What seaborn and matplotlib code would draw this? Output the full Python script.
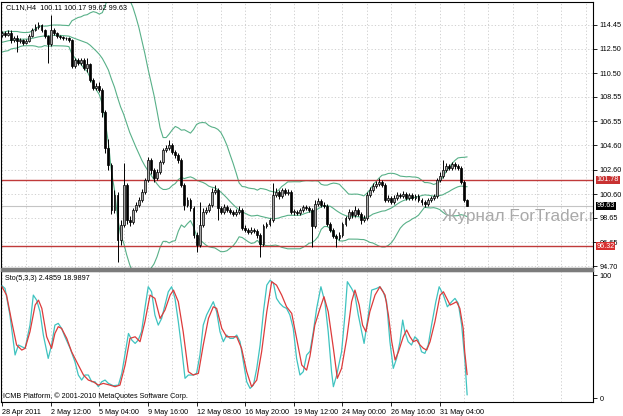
import numpy as np
import pandas as pd
import matplotlib
matplotlib.use("Agg")
import matplotlib.pyplot as plt
import seaborn as sns
from matplotlib.patches import Rectangle
from matplotlib.transforms import blended_transform_factory

# ---------------- data ----------------
title = "CL1N,H4  100.11 100.17 99.62 99.63"
first_open = 113.60
closes = [113.79,113.63,113.79,113.22,113.38,113.14,113.22,112.97,113.14,113.55,
          114.04,114.29,114.45,114.04,113.55,112.89,114.04,113.79,113.55,113.47,
          113.38,113.38,113.22,111.09,111.58,111.34,111.58,110.93,111.25,109.94,
          109.29,109.45,109.12,107.32,104.37,102.98,99.29,100.52,96.83,98.06,
          101.34,98.47,98.31,99.29,99.70,100.11,100.76,101.75,103.39,102.57,
          101.91,102.40,103.22,104.21,104.37,104.62,104.04,103.80,103.39,101.34,
          99.70,100.11,99.45,97.24,96.42,98.06,99.13,99.29,99.70,100.76,
          100.93,99.45,99.13,99.54,99.29,99.13,98.96,99.13,99.29,97.81,
          97.65,97.49,97.65,97.57,97.24,96.50,97.98,98.14,98.47,100.52,
          100.76,100.44,100.93,100.68,100.76,99.13,99.13,99.05,99.29,99.54,
          99.45,99.29,97.98,99.78,100.03,99.70,99.62,98.14,97.65,97.16,
          97.00,97.24,98.14,98.63,99.13,98.88,99.29,98.96,98.47,98.63,
          100.52,100.93,101.26,101.42,101.58,101.34,100.11,100.27,99.95,100.27,
          100.52,100.44,100.60,100.27,100.52,100.27,100.44,100.11,99.95,99.78,
          100.11,100.27,100.44,101.75,102.08,102.57,102.89,102.73,103.06,102.89,
          102.73,101.58,100.11,99.63]
highs = [113.95,113.95,114.00,114.04,113.55,113.63,113.38,113.30,113.30,113.70,
         114.20,114.50,114.70,114.55,114.12,113.63,115.27,114.20,113.90,113.63,
         113.55,113.50,113.50,113.30,111.75,111.75,111.75,111.75,111.75,111.34,
         110.10,109.70,109.80,109.29,107.50,105.10,103.14,100.93,100.76,98.47,
         103.14,101.50,98.80,99.45,99.95,100.35,101.00,101.91,103.60,103.55,
         102.73,102.65,103.40,104.40,104.62,105.03,104.80,104.21,103.96,103.55,
         101.50,100.35,100.27,99.62,97.49,99.95,99.45,99.55,99.90,101.09,
         101.34,101.09,99.62,99.78,99.70,99.45,99.29,99.37,99.62,99.45,
         98.06,97.81,97.90,97.81,97.73,97.40,98.14,98.31,98.63,101.50,
         101.09,100.93,101.09,101.09,101.00,100.93,99.37,99.29,99.45,99.70,
         99.70,99.62,99.45,100.11,100.27,100.19,99.95,99.78,98.31,97.81,
         97.32,97.49,98.31,98.80,99.37,99.29,99.62,99.45,99.13,98.88,
         100.76,101.17,101.50,101.66,101.91,101.75,101.50,100.52,100.44,100.52,
         100.76,100.68,100.85,100.76,100.68,100.68,100.60,100.60,100.27,100.11,
         100.27,100.44,100.60,101.91,102.40,103.39,103.14,103.06,103.22,103.22,
         103.06,102.89,101.75,100.17]
lows = [113.50,113.47,113.55,112.97,113.05,112.24,113.00,112.80,112.85,113.05,
        113.47,113.95,114.12,113.90,113.38,111.34,112.70,113.63,113.40,113.30,
        113.22,113.22,113.05,110.93,110.93,111.17,111.17,110.76,110.60,109.78,
        109.12,109.12,108.95,106.90,104.00,102.57,98.96,99.05,95.03,96.42,
        97.90,98.14,97.98,98.14,99.13,99.54,99.95,100.60,101.58,102.24,
        101.58,101.75,102.24,103.06,104.04,104.21,103.88,103.55,103.14,101.17,
        99.29,99.54,99.21,97.00,95.85,96.26,97.90,98.96,99.13,99.54,
        100.60,98.47,98.96,98.96,99.13,98.96,98.80,98.80,98.96,97.65,
        97.49,97.32,97.32,97.40,97.00,95.44,96.34,97.81,97.98,98.31,
        100.35,100.19,100.27,100.52,100.52,98.96,98.88,98.88,98.88,99.13,
        99.29,99.13,96.26,97.81,99.62,99.54,99.45,97.98,97.49,97.00,
        96.26,96.83,97.08,97.98,98.47,98.63,98.72,98.80,98.14,98.31,
        98.47,100.35,100.76,101.09,101.26,101.17,99.95,99.95,99.78,99.78,
        100.11,100.27,100.27,100.11,100.11,100.11,100.11,99.95,99.70,99.54,
        99.62,99.95,100.11,100.27,101.58,101.91,102.40,102.57,102.57,102.65,
        102.57,101.42,99.95,99.62]
# closes before the first visible bar (warm-up for the 20-period bands)
prior_closes = [112.4,112.6,112.3,112.8,112.9,112.5,112.7,113.1,113.3,112.9,
                113.0,113.4,113.2,112.8,113.1,113.5,113.3,113.6,113.4]

price_ticks = [114.45,112.50,110.50,108.55,106.55,104.60,102.60,100.60,98.65,96.65,94.70]
level_hi, level_lo, bid = 101.78, 96.32, 99.63

date_labels = ["28 Apr 2011","2 May 12:00","5 May 04:00","9 May 16:00","12 May 08:00",
               "16 May 20:00","19 May 12:00","24 May 00:00","26 May 16:00","31 May 04:00"]
date_label_bars = [0,16,32,48,64,80,96,112,128,144]

k_bar = [0,1.0,2.6,4.3,5.4,6.5,7.6,9.2,10.3,11.4,12.5,13.6,15.2,16.3,17.4,18.5,19.6,20.7,22.4,24.0,
         25.1,26.2,27.3,28.4,29.5,30.6,31.7,32.8,33.9,35.0,36.6,38.3,39.4,40.5,41.6,42.7,43.8,44.8,45.9,47.0,
         48.1,49.2,50.3,51.4,52.5,53.6,54.7,55.8,56.9,58.0,59.1,60.2,61.3,62.9,64.0,65.1,66.2,67.3,68.4,69.5,
         70.6,71.7,72.8,73.9,75.0,76.1,77.2,78.3,79.4,80.5,81.6,82.7,83.8,84.9,86.0,87.1,88.2,89.3,90.3,91.4,
         92.5,93.6,94.7,95.8,96.9,98.0,99.1,100.2,101.3,102.4,103.5,104.9,106.2,107.3,108.4,109.0,110.1,111.7,112.8,113.6,
         115.0,116.1,117.2,118.3,119.1,120.5,121.6,123.2,124.3,125.4,126.5,127.6,128.7,129.8,130.9,131.8,132.5,133.6,134.7,135.8,
         136.9,138.0,139.1,140.2,141.3,142.7,143.8,145.2,146.5,147.9,149.0,150.1,151.2,152.3,153.0]
k_val = [91.3,89.1,67.5,35.0,43.1,41.7,40.4,59.3,83.7,79.6,70.2,51.2,32.2,43.1,59.3,60.7,56.6,49.8,40.4,29.5,
         18.7,14.6,18.7,18.7,13.2,13.2,9.2,13.2,14.6,11.9,10.0,10.5,20.0,36.3,52.5,47.1,44.4,47.1,53.9,72.9,
         90.5,86.4,67.5,59.3,64.7,75.6,86.4,90.5,81.0,62.0,40.4,16.0,18.7,18.7,20.0,34.9,59.3,67.5,72.9,78.3,
         70.2,53.9,45.8,51.2,48.5,48.5,51.2,45.8,29.5,13.2,7.8,10.5,24.1,43.1,70.2,91.8,95.9,93.2,81.0,76.9,
         74.2,72.9,67.5,56.6,32.2,18.7,21.4,34.9,38.0,53.9,72.9,90.5,78.3,53.9,21.4,9.2,18.7,37.6,67.5,94.6,
         89.1,83.7,67.5,53.9,44.4,67.5,87.8,89.1,90.5,86.4,78.3,45.8,24.1,32.2,45.8,63.4,53.9,45.8,43.1,49.8,
         47.1,37.6,36.3,43.1,59.3,78.3,90.5,83.7,74.2,78.3,81.0,76.9,59.3,29.5,2.49]
d_bar = [0,1.5,3.2,4.8,6.5,7.6,9.2,10.9,12.0,13.1,14.7,16.3,17.4,18.5,19.6,21.3,22.9,25.1,26.8,28.4,
         30.0,31.7,33.3,35.5,37.2,38.8,40.5,42.1,43.8,45.4,47.0,48.7,50.3,52.0,53.6,55.3,56.4,58.0,59.6,61.3,
         62.9,64.6,66.2,67.9,69.5,70.6,72.3,73.9,75.5,77.2,78.8,80.5,82.1,83.8,85.4,87.1,88.7,90.3,92.0,93.6,
         95.3,96.9,98.6,100.2,101.3,102.9,104.6,105.9,107.3,109.0,110.3,111.7,113.4,115.0,116.1,117.5,118.6,119.7,121.0,122.7,
         124.3,126.0,127.1,128.2,129.3,130.4,132.0,133.1,134.2,135.3,136.4,137.5,138.6,139.7,140.8,142.4,144.1,145.2,146.3,147.4,
         148.5,149.5,150.6,151.7,152.2,153.0]
d_val = [90.5,83.7,62.0,43.1,39.0,40.4,53.9,75.6,79.6,72.9,49.8,40.4,52.5,58.0,56.6,48.5,37.6,26.8,18.7,14.6,
         13.2,10.5,11.9,10.5,9.2,10.5,26.8,48.5,49.8,45.8,62.0,83.7,81.0,64.7,71.5,83.7,87.8,78.3,53.9,21.4,
         18.7,20.0,43.1,64.7,74.2,72.9,56.6,49.8,49.8,49.8,40.4,21.4,9.2,14.6,37.6,70.2,94.6,91.8,83.7,74.2,
         68.8,48.5,26.8,22.7,34.0,59.3,72.9,82.4,70.2,40.4,16.0,24.1,48.5,78.3,87.8,75.6,59.3,53.9,70.2,83.7,
         90.5,83.7,67.5,45.8,30.9,37.6,49.8,55.3,49.8,45.8,47.1,43.1,40.4,39.0,45.8,62.0,83.7,86.4,81.0,75.6,
         76.9,78.3,72.9,56.6,37.6,18.99]

# ---------------- figure ----------------
sns.set_theme(style="white")
plt.rcParams['font.family'] = ['Liberation Sans', 'DejaVu Sans']
FS = 5.2
W, H = 623, 416
fig = plt.figure(figsize=(W / 100, H / 100), dpi=100)
fig.patch.set_facecolor('white')
def fx(px): return px / W
def fy(py): return 1 - py / H

ax = fig.add_axes([fx(1), fy(268), fx(593) - fx(1), fy(2) - fy(268)])
ax2 = fig.add_axes([fx(1), fy(402), fx(593) - fx(1), fy(271) - fy(402)])
XL = (-0.33, 194.4)

n = len(closes)
bars = np.arange(n)
c = np.array(closes); o = np.r_[first_open, c[:-1]]
hi = np.array(highs); lo = np.array(lows)

# Bollinger bands (20, 2)
full = pd.Series(prior_closes + closes)
mid = full.rolling(20).mean().values[-n:]
sd = full.rolling(20).std(ddof=0).values[-n:]
upper = mid + 2 * sd
lower = mid - 2 * sd

grid_kw = dict(color='#cacaca', lw=0.6, ls=(0, (1.5, 2.5)))
ax.set_xlim(*XL)
ax.set_ylim(94.54, 116.33)
ax.set_xticks(np.arange(0, 195, 8))
ax.set_yticks(price_ticks)
ax.set_yticklabels([f"{v:.2f}" for v in price_ticks])
ax.grid(True, **grid_kw)
ax.set_axisbelow(True)
ax.yaxis.tick_right()
ax.tick_params(axis='y', length=3, width=0.6, pad=1.5, labelsize=FS, direction='out', right=True, colors='black')
ax.tick_params(axis='x', length=0, labelbottom=False)

band_col = '#58b088'
for series in (upper, mid, lower):
    sns.lineplot(x=bars, y=series, ax=ax, color=band_col, lw=0.8, zorder=2)

ax.axhline(bid, color='#c4c4c4', lw=0.8, zorder=1.5)
ax.axhline(level_hi, color='#c03a3a', lw=1.0, zorder=2.2)
ax.axhline(level_lo, color='#c03a3a', lw=1.0, zorder=2.2)

upm = c >= o
body_lo = np.minimum(o, c)
body_h = np.maximum(np.abs(c - o), 0.04)
ax.vlines(bars, lo, hi, color='black', lw=0.7, zorder=3)
ax.bar(bars[upm], body_h[upm], bottom=body_lo[upm], width=0.62, color='#a6a6a6',
       edgecolor='black', linewidth=0.5, zorder=3.5)
ax.bar(bars[~upm], body_h[~upm], bottom=body_lo[~upm], width=0.62, color='black',
       edgecolor='black', linewidth=0.5, zorder=3.5)

tr = blended_transform_factory(ax.transAxes, ax.transData)
for val, fc in ((level_hi, '#c83232'), (bid, 'black'), (level_lo, '#d83030')):
    ax.text(1.006, val, f"{val:.2f}", transform=tr, ha='left', va='center', fontsize=FS,
            color='white', clip_on=False, zorder=10,
            bbox=dict(boxstyle='square,pad=0.08', fc=fc, ec='none'))

ax.text(fx(442), fy(221), "Журнал ForTrader.ru", transform=fig.transFigure, fontsize=12.3,
        color='#a9a9a9', ha='left', va='baseline', clip_on=True, zorder=4,
        family=['Liberation Sans', 'DejaVu Sans'])

# stochastic sub-window
ax2.set_xlim(*XL)
ax2.set_ylim(-3.25, 103.3)
sns.lineplot(x=k_bar, y=k_val, ax=ax2, color='#3fc3c0', lw=0.9, zorder=3)
sns.lineplot(x=d_bar, y=d_val, ax=ax2, color='#dd3b3b', lw=0.9, zorder=3.2)
ax2.set_xticks(date_label_bars)
ax2.set_xticklabels(date_labels, ha='left', fontsize=FS)
ax2.set_xticks(np.arange(8, 195, 16), minor=True)
ax2.grid(True, axis='x', which='both', **grid_kw)
ax2.set_axisbelow(True)
ax2.tick_params(axis='x', which='major', length=3, width=0.6, pad=2, direction='out', bottom=True, colors='black')
ax2.tick_params(axis='x', which='minor', length=0)
ax2.yaxis.tick_right()
ax2.set_yticks([0, 100])
ax2.set_yticklabels(["0", "100"])
ax2.tick_params(axis='y', length=3, width=0.6, pad=1.5, labelsize=FS, direction='out', right=True, colors='black')
ax2.set_xlabel(""); ax2.set_ylabel(""); ax.set_xlabel(""); ax.set_ylabel("")

for a in (ax, ax2):
    for s in a.spines.values():
        s.set_color('black'); s.set_linewidth(0.8)

fig.patches.append(Rectangle((fx(1), fy(271)), fx(593) - fx(1), fy(268) - fy(271),
                             transform=fig.transFigure, color='#7c7c7c', zorder=5))

fig.text(fx(6), fy(8), title, fontsize=FS, va='center', ha='left', color='black')
fig.text(fx(5), fy(279), "Sto(5,3,3) 2.4859 18.9897", fontsize=FS, va='center', ha='left', color='black')
fig.text(fx(3), fy(396), "ICMB Platform, © 2001-2010 MetaQuotes Software Corp.", fontsize=FS,
         va='center', ha='left', color='black')

fig.savefig("out.png", dpi=100)
